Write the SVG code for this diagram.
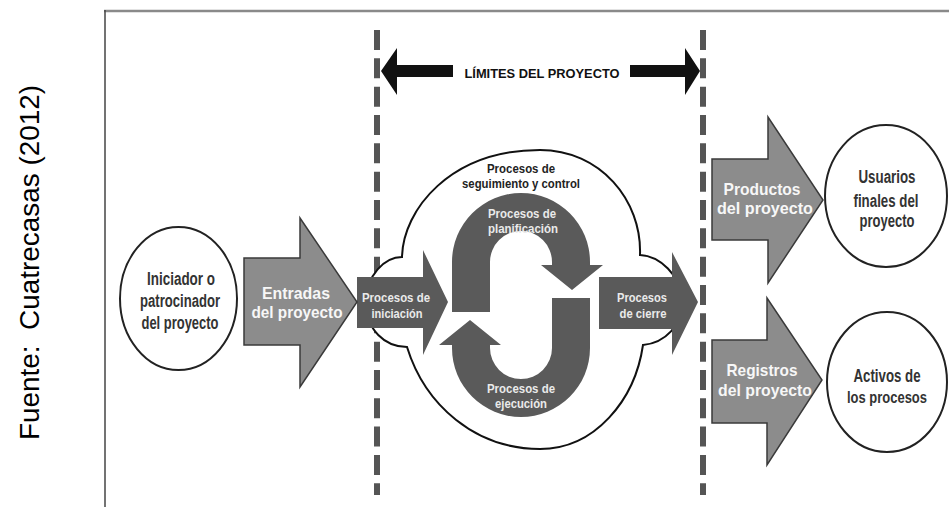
<svg xmlns="http://www.w3.org/2000/svg" width="949" height="507" viewBox="0 0 949 507">
  <style>
    .frame-top{stroke:#8a8a8a;stroke-width:2.5}
    .frame-left{stroke:#444;stroke-width:1.5}
    .bound{fill:none;stroke:#555;stroke-width:6;stroke-dasharray:20 8.33}
    .oval{fill:#fff;stroke:#222;stroke-width:2}
    .cloud{fill:#fff;stroke:#111;stroke-width:2}
    .blk{fill:#8c8c8c;stroke:#3a3a3a;stroke-width:1.5}
    .dark{fill:#5a5a5a}
    .lim{fill:#111}
    .lbl{font-family:"Liberation Sans",Arial,Helvetica,sans-serif;font-weight:bold;text-anchor:middle}
    .t-dark{fill:#333;font-size:18px}
    .t-white{fill:#f7f7f7;font-size:17px}
    .t-small{fill:#eaeaea;font-size:13px}
    .t-ctrl{fill:#222;font-size:13px}
    .t-lim{fill:#111;font-size:12px}
    .src{font-family:"Liberation Sans",Arial,Helvetica,sans-serif;font-size:27px;fill:#000;white-space:pre}
  </style>
  <defs>
    <!-- thick half-ring arrow used for the planning / execution cycle -->
    <path id="ring-arrow" d="M452,312 L452,262 A69,69 0 0 1 590,262 L590,265 L603,265 L572,290 L541,265 L552,265 L552,262 A31,31 0 0 0 490,262 L490,312 Z"/>
  </defs>

  <rect width="949" height="507" fill="#fff"/>

  <!-- source caption -->
  <text class="src" transform="translate(39,440) rotate(-90)" textLength="355" lengthAdjust="spacingAndGlyphs">Fuente:  Cuatrecasas (2012)</text>

  <!-- frame -->
  <line class="frame-top" x1="104" y1="11" x2="949" y2="11"/>
  <line class="frame-left" x1="105" y1="10" x2="105" y2="507"/>

  <!-- project boundaries and their span arrow -->
  <g id="connectors">
    <line class="bound" x1="377" y1="30" x2="377" y2="495"/>
    <line class="bound" x1="703" y1="30" x2="703" y2="495"/>
    <path class="lim" d="M381,71 L397,48 L397,65 L453,65 L453,77 L397,77 L397,95 Z"/>
    <path class="lim" d="M700,71 L685,48 L685,65 L630,65 L630,77 L685,77 L685,95 Z"/>
    <text class="lbl t-lim" x="542" y="78" textLength="155" lengthAdjust="spacingAndGlyphs">LÍMITES DEL PROYECTO</text>
  </g>

  <!-- monitoring and control envelope -->
  <g id="seguimiento">
    <path class="cloud" d="M402,257 C403,210 450,150 540,150 C600,150 642,200 640,255 C660,256 680,275 683,300 C683,325 665,343 643,345 C635,400 595,449 540,449 C475,449 425,405 407,347 C385,347 366,330 366,302 C366,275 385,257 402,257 Z"/>
    <text class="lbl t-ctrl" x="521" y="173" textLength="68" lengthAdjust="spacingAndGlyphs">Procesos de</text>
    <text class="lbl t-ctrl" x="521" y="188" textLength="118" lengthAdjust="spacingAndGlyphs">seguimiento y control</text>
  </g>

  <g id="planificacion">
    <use href="#ring-arrow" class="dark"/>
    <text class="lbl t-small" x="522" y="218" textLength="68" lengthAdjust="spacingAndGlyphs">Procesos de</text>
    <text class="lbl t-small" x="523" y="233" textLength="70" lengthAdjust="spacingAndGlyphs">planificación</text>
  </g>

  <g id="ejecucion">
    <use href="#ring-arrow" class="dark" transform="rotate(180 521 305)"/>
    <text class="lbl t-small" x="521" y="393" textLength="68" lengthAdjust="spacingAndGlyphs">Procesos de</text>
    <text class="lbl t-small" x="521" y="408" textLength="52" lengthAdjust="spacingAndGlyphs">ejecución</text>
  </g>

  <g id="iniciacion">
    <path class="dark" d="M357,277 L423,277 L423,250 L448,302 L423,355 L423,328 L357,328 Z"/>
    <text class="lbl t-small" x="396" y="302" textLength="68" lengthAdjust="spacingAndGlyphs">Procesos de</text>
    <text class="lbl t-small" x="397" y="318" textLength="51" lengthAdjust="spacingAndGlyphs">iniciación</text>
  </g>

  <g id="cierre">
    <path class="dark" d="M599,277 L672,277 L672,252 L698,302 L672,355 L672,329 L599,329 Z"/>
    <text class="lbl t-small" x="642" y="302" textLength="50" lengthAdjust="spacingAndGlyphs">Procesos</text>
    <text class="lbl t-small" x="643" y="318" textLength="47" lengthAdjust="spacingAndGlyphs">de cierre</text>
  </g>

  <g id="iniciador">
    <ellipse class="oval" cx="178.5" cy="298.5" rx="58.5" ry="71.5"/>
    <text class="lbl t-dark" x="181" y="285" textLength="68" lengthAdjust="spacingAndGlyphs">Iniciador o</text>
    <text class="lbl t-dark" x="180" y="307" textLength="80" lengthAdjust="spacingAndGlyphs">patrocinador</text>
    <text class="lbl t-dark" x="180" y="329" textLength="77" lengthAdjust="spacingAndGlyphs">del proyecto</text>
  </g>

  <g id="entradas">
    <path class="blk" d="M244,258 L300,258 L300,218 L357,302 L300,387 L300,345 L244,345 Z"/>
    <text class="lbl t-white" x="296" y="299" textLength="68" lengthAdjust="spacingAndGlyphs">Entradas</text>
    <text class="lbl t-white" x="297" y="318" textLength="91" lengthAdjust="spacingAndGlyphs">del proyecto</text>
  </g>

  <g id="productos">
    <path class="blk" d="M712,159 L768,159 L768,117 L823,200 L768,283 L768,240 L712,240 Z"/>
    <text class="lbl t-white" x="762" y="195" textLength="77" lengthAdjust="spacingAndGlyphs">Productos</text>
    <text class="lbl t-white" x="765" y="214" textLength="96" lengthAdjust="spacingAndGlyphs">del proyecto</text>
  </g>

  <g id="registros">
    <path class="blk" d="M712,340 L767,340 L767,298 L822,380 L767,465 L767,423 L712,423 Z"/>
    <text class="lbl t-white" x="762" y="376" textLength="71" lengthAdjust="spacingAndGlyphs">Registros</text>
    <text class="lbl t-white" x="765" y="396" textLength="94" lengthAdjust="spacingAndGlyphs">del proyecto</text>
  </g>

  <g id="usuarios">
    <ellipse class="oval" cx="886" cy="196" rx="61" ry="71"/>
    <text class="lbl t-dark" x="887" y="183" textLength="57" lengthAdjust="spacingAndGlyphs">Usuarios</text>
    <text class="lbl t-dark" x="886" y="207" textLength="65" lengthAdjust="spacingAndGlyphs">finales del</text>
    <text class="lbl t-dark" x="887" y="227" textLength="55" lengthAdjust="spacingAndGlyphs">proyecto</text>
  </g>

  <g id="activos">
    <ellipse class="oval" cx="887" cy="382" rx="60" ry="70"/>
    <text class="lbl t-dark" x="887" y="382" textLength="67" lengthAdjust="spacingAndGlyphs">Activos de</text>
    <text class="lbl t-dark" x="887" y="403" style="font-size:16px" textLength="80" lengthAdjust="spacingAndGlyphs">los procesos</text>
  </g>
</svg>
